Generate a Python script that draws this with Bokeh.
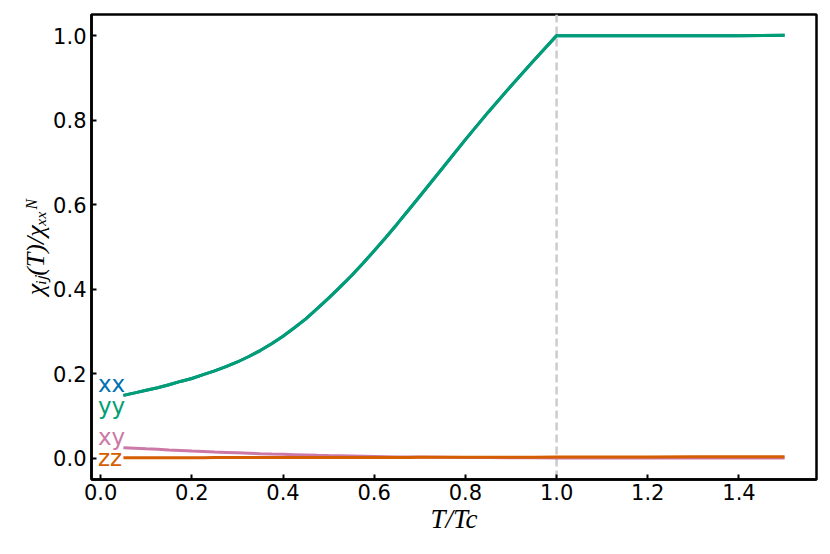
from bokeh.plotting import figure
from bokeh.models import Range1d, FixedTicker, PrintfTickFormatter, Span, ColumnDataSource
from bokeh.core.properties import value
from bokeh.embed import file_html
from bokeh.resources import INLINE

# ---------------- data ----------------
T = [0.050, 0.075, 0.100, 0.125, 0.150, 0.175, 0.200, 0.225, 0.250, 0.275,
     0.300, 0.325, 0.350, 0.375, 0.400, 0.425, 0.450, 0.475, 0.500, 0.525,
     0.550, 0.575, 0.600, 0.625, 0.650, 0.675, 0.700,
     0.750, 0.800, 0.850, 0.900, 0.950, 1.000,
     1.100, 1.200, 1.300, 1.400, 1.500]

chi_xx = [0.149, 0.155, 0.161, 0.167, 0.174, 0.182, 0.189, 0.198, 0.207, 0.217,
          0.228, 0.241, 0.255, 0.271, 0.289, 0.309, 0.330, 0.354, 0.379, 0.405,
          0.432, 0.461, 0.491, 0.522, 0.554, 0.587, 0.620,
          0.687, 0.754, 0.819, 0.881, 0.941, 1.000,
          1.000, 1.000, 1.000, 1.000, 1.001]

chi_yy = [0.149, 0.155, 0.161, 0.167, 0.174, 0.182, 0.189, 0.198, 0.207, 0.217,
          0.228, 0.241, 0.255, 0.271, 0.289, 0.309, 0.330, 0.354, 0.379, 0.405,
          0.432, 0.461, 0.491, 0.522, 0.554, 0.587, 0.620,
          0.687, 0.754, 0.819, 0.881, 0.941, 1.000,
          1.000, 1.000, 1.000, 1.000, 1.001]

chi_xy = [0.0250, 0.0238, 0.0225, 0.0213, 0.0200, 0.0188, 0.0175, 0.0163, 0.0150, 0.0140,
          0.0130, 0.0120, 0.0110, 0.0102, 0.0095, 0.0088, 0.0080, 0.0072, 0.0065, 0.0060,
          0.0055, 0.0050, 0.0045, 0.0040, 0.0035, 0.0032, 0.0030,
          0.0025, 0.0020, 0.0018, 0.0015, 0.0012, 0.0010,
          0.0010, 0.0010, 0.0010, 0.0010, 0.0010]

chi_zz = [0.0015, 0.0015, 0.0016, 0.0016, 0.0016, 0.0017, 0.0017, 0.0017, 0.0018, 0.0018,
          0.0018, 0.0019, 0.0019, 0.0019, 0.0020, 0.0020, 0.0020, 0.0021, 0.0021, 0.0021,
          0.0022, 0.0022, 0.0022, 0.0023, 0.0023, 0.0023, 0.0024,
          0.0025, 0.0026, 0.0027, 0.0028, 0.0029, 0.0030,
          0.0032, 0.0034, 0.0036, 0.0038, 0.0040]

series_names = ["xx", "yy", "xy", "zz"]
series_colors = ["#0072B2", "#009E73", "#CC79A7", "#D55E00"]
label_y = [0.176, 0.125, 0.051, 0.002]   # vertical centres of the in-plot series labels

x_ticks = [0.0, 0.2, 0.4, 0.6, 0.8, 1.0, 1.2, 1.4]
y_ticks = [0.0, 0.2, 0.4, 0.6, 0.8, 1.0]
T_c = 1.0

x_title = "T/Tc"
y_title = "χᵢⱼ(T)/χₓₓᴺ"

# ---------------- figure ----------------
W, H = 822, 546
FL, FR, FT, FB = 91, 816, 14, 479   # frame edges in page pixels

p = figure(width=W, height=H,
           x_range=Range1d(-0.02, 1.57), y_range=Range1d(-0.05, 1.05),
           output_backend="svg", toolbar_location=None,
           min_border_left=FL, min_border_right=W - FR,
           min_border_top=FT, min_border_bottom=H - FB)

p.background_fill_color = "white"
p.border_fill_color = "white"
p.xgrid.visible = False
p.ygrid.visible = False
p.outline_line_color = "black"
p.outline_line_width = 2.5
p.outline_line_alpha = 1.0

for ax in (p.xaxis[0], p.yaxis[0]):
    ax.axis_line_width = 2.5
    ax.axis_line_color = "black"
    ax.major_tick_in = 5
    ax.major_tick_out = 0
    ax.major_tick_line_width = 2
    ax.major_tick_line_color = "black"
    ax.minor_tick_line_color = None
    ax.major_label_text_font = "DejaVu Sans"
    ax.major_label_text_font_size = "21px"
    ax.major_label_text_color = "black"
    ax.formatter = PrintfTickFormatter(format="%.1f")
    ax.axis_label_text_font = "Liberation Serif"
    ax.axis_label_text_font_style = "italic"
    ax.axis_label_text_color = "black"

p.xaxis[0].ticker = FixedTicker(ticks=x_ticks)
p.yaxis[0].ticker = FixedTicker(ticks=y_ticks)
p.xaxis[0].major_label_standoff = 4
p.yaxis[0].major_label_standoff = 5
p.xaxis[0].axis_label = x_title
p.yaxis[0].axis_label = y_title
p.xaxis[0].axis_label_text_font_size = "27px"
p.yaxis[0].axis_label_text_font_size = "26px"
p.xaxis[0].axis_label_standoff = 1
p.yaxis[0].axis_label_standoff = 0

p.add_layout(Span(location=T_c, dimension="height", line_color="#cccccc",
                  line_width=2.5, line_dash="8 4", level="underlay"))

for ys, c in zip([chi_xx, chi_yy, chi_xy, chi_zz], series_colors):
    p.line(T, ys, line_color=c, line_width=3)

src = ColumnDataSource(dict(x=[-0.006] * 4, y=label_y, text=series_names, color=series_colors))
p.text(x="x", y="y", text="text", text_color="color", source=src,
       text_font=value("DejaVu Sans"), text_font_size="23px",
       text_align="left", text_baseline="middle")

open("out.html", "w").write(file_html(p, INLINE))
